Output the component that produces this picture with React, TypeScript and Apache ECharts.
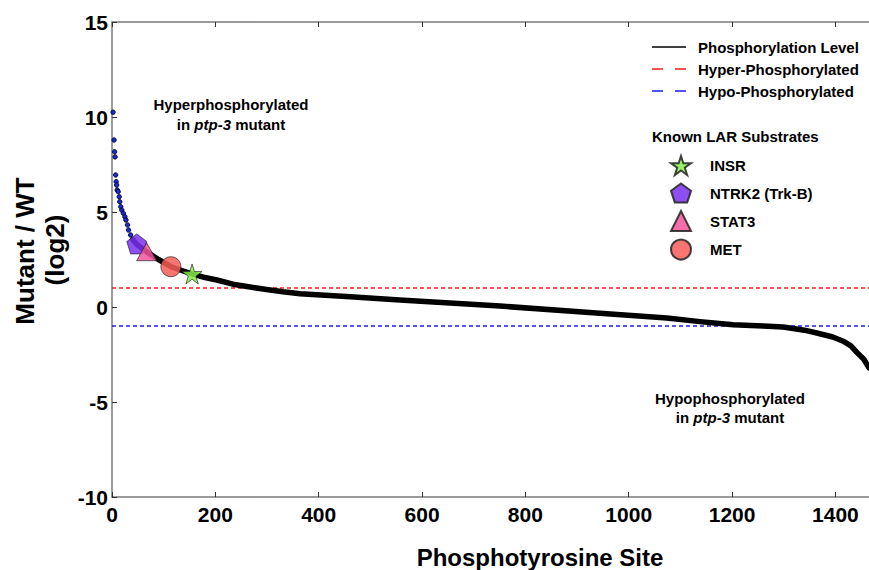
import React, { useEffect, useRef } from "react";
import * as echarts from "echarts";

// ---- data ----
const X_MAX = 1465;
const Y_TICKS = [-10, -5, 0, 5, 10, 15];
const X_TICKS_INTERVAL = 200;

// dense part of the sorted phosphorylation curve (site index, log2 ratio)
const lineX = [40, 48, 67, 90, 114, 135, 155, 180, 203, 234, 267, 299, 331, 364, 461, 557, 751, 944, 1074, 1138, 1202, 1260, 1299, 1340, 1364, 1395, 1415, 1430, 1442, 1455, 1465];
const lineY = [3.55, 3.3, 2.9, 2.5, 2.12, 1.92, 1.74, 1.55, 1.42, 1.2, 1.05, 0.92, 0.8, 0.7, 0.54, 0.37, 0.05, -0.33, -0.58, -0.77, -0.93, -1.0, -1.05, -1.22, -1.37, -1.58, -1.8, -2.05, -2.4, -2.75, -3.2];

// sparse individual sites at the top of the ranking
const dotX = [2, 4, 5, 6, 7, 8, 9, 10, 12, 14, 15, 17, 19, 22, 25, 27, 30, 32, 36];
const dotY = [10.25, 8.79, 8.17, 7.9, 6.95, 6.6, 6.42, 6.16, 6.07, 5.8, 5.54, 5.28, 5.1, 4.93, 4.75, 4.58, 4.32, 4.05, 3.79];

const HYPER_THRESHOLD = 1;
const HYPO_THRESHOLD = -1;

const substrateNames = ["INSR", "NTRK2 (Trk-B)", "STAT3", "MET"];
const substrateX = [155, 48, 67, 114];
const substrateY = [1.74, 3.32, 2.91, 2.12];
const substrateColors = ["#86f04a", "#7a2ff0", "#f2559b", "#f75d59"];

const STAR = "path://M50,0 L61.2,34.5 L97.6,34.5 L68.2,55.9 L79.4,90.5 L50,69.1 L20.6,90.5 L31.8,55.9 L2.4,34.5 L38.8,34.5 Z";
const PENTAGON = "path://M50,0 L97.6,34.5 L79.4,90.5 L20.6,90.5 L2.4,34.5 Z";
const substrateSymbols = [STAR, PENTAGON, "triangle", "circle"];

const SOLID_ICON = "path://M0,0 H68 V3 H0 Z";
const DASH_ICON = "path://M0,0 H22 V3 H0 Z M46,0 H68 V3 H46 Z";

const FONT = "Liberation Sans";

export default function App() {
  const ref = useRef<HTMLDivElement>(null);
  useEffect(() => {
    if (!ref.current) return;
    const chart = echarts.init(ref.current, undefined, { renderer: "svg" });
    const axisGray = "#7a7a7a";
    const legendText = { fontFamily: FONT, fontWeight: "bold", fontSize: 15, color: "#000" };
    const option: any = {
      animation: false,
      backgroundColor: "#ffffff",
      grid: { left: 112, right: 0, top: 22, bottom: 73, containLabel: false },
      xAxis: [
        {
          type: "value",
          min: 0,
          max: X_MAX,
          interval: X_TICKS_INTERVAL,
          splitLine: { show: false },
          axisLine: { show: true, onZero: false, lineStyle: { color: axisGray, width: 1.5 } },
          axisTick: { show: true, inside: true, length: 5, lineStyle: { color: "#333" } },
          axisLabel: {
            color: "#000",
            fontFamily: FONT,
            fontWeight: "bold",
            fontSize: 21,
            margin: 7,
            showMaxLabel: false,
            formatter: (v: number) => String(v),
          },
        },
        {
          type: "value",
          position: "top",
          min: 0,
          max: X_MAX,
          interval: X_TICKS_INTERVAL,
          splitLine: { show: false },
          axisLine: { show: true, onZero: false, lineStyle: { color: axisGray, width: 1.5 } },
          axisTick: { show: true, inside: true, length: 5, lineStyle: { color: "#333" } },
          axisLabel: { show: false },
        },
      ],
      yAxis: {
        type: "value",
        min: Y_TICKS[0],
        max: Y_TICKS[Y_TICKS.length - 1],
        interval: 5,
        splitLine: { show: false },
        axisLine: { show: true, onZero: false, lineStyle: { color: axisGray, width: 1.5 } },
        axisTick: { show: true, inside: true, length: 5, lineStyle: { color: "#333" } },
        axisLabel: {
          color: "#000",
          fontFamily: FONT,
          fontWeight: "bold",
          fontSize: 21,
          margin: 4,
        },
      },
      legend: [
        {
          orient: "vertical",
          left: 652,
          top: 39.5,
          padding: 0,
          itemWidth: 34,
          itemHeight: 14,
          itemGap: 7,
          selectedMode: false,
          textStyle: { ...legendText, padding: [0, 0, 0, 7] },
          data: [
            { name: "Phosphorylation Level", icon: SOLID_ICON },
            { name: "Hyper-Phosphorylated", icon: DASH_ICON },
            { name: "Hypo-Phosphorylated", icon: DASH_ICON },
          ],
        },
        {
          orient: "vertical",
          left: 670,
          top: 155,
          padding: 0,
          itemWidth: 20,
          itemHeight: 20,
          itemGap: 6.5,
          selectedMode: false,
          textStyle: { ...legendText, padding: [0, 0, 0, 14] },
          data: substrateNames,
        },
      ],
      graphic: [
        {
          type: "text",
          x: 25,
          y: 251,
          rotation: Math.PI / 2,
          style: { text: "Mutant / WT", fontFamily: FONT, fontWeight: "bold", fontSize: 26, fill: "#000", align: "center", verticalAlign: "middle" },
        },
        {
          type: "text",
          x: 55,
          y: 250,
          rotation: Math.PI / 2,
          style: { text: "(log2)", fontFamily: FONT, fontWeight: "bold", fontSize: 26, fill: "#000", align: "center", verticalAlign: "middle" },
        },
        {
          type: "text",
          x: 540,
          y: 557,
          style: { text: "Phosphotyrosine Site", fontFamily: FONT, fontWeight: "bold", fontSize: 24, fill: "#000", align: "center", verticalAlign: "middle" },
        },
        {
          type: "text",
          x: 652,
          y: 136,
          style: { text: "Known LAR Substrates", fontFamily: FONT, fontWeight: "bold", fontSize: 15, fill: "#000", align: "left", verticalAlign: "middle" },
        },
        {
          type: "text",
          x: 231,
          y: 104,
          style: { text: "Hyperphosphorylated", fontFamily: FONT, fontWeight: "bold", fontSize: 15, fill: "#000", align: "center", verticalAlign: "middle" },
        },
        {
          type: "text",
          x: 231,
          y: 124,
          style: {
            text: "in {i|ptp-3} mutant",
            rich: { i: { fontStyle: "italic", fontFamily: FONT, fontWeight: "bold", fontSize: 15, fill: "#000" } },
            fontFamily: FONT, fontWeight: "bold", fontSize: 15, fill: "#000", align: "center", verticalAlign: "middle",
          },
        },
        {
          type: "text",
          x: 730,
          y: 398,
          style: { text: "Hypophosphorylated", fontFamily: FONT, fontWeight: "bold", fontSize: 15, fill: "#000", align: "center", verticalAlign: "middle" },
        },
        {
          type: "text",
          x: 730,
          y: 417,
          style: {
            text: "in {i|ptp-3} mutant",
            rich: { i: { fontStyle: "italic", fontFamily: FONT, fontWeight: "bold", fontSize: 15, fill: "#000" } },
            fontFamily: FONT, fontWeight: "bold", fontSize: 15, fill: "#000", align: "center", verticalAlign: "middle",
          },
        },
      ],
      series: [
        {
          name: "Hyper-Phosphorylated",
          type: "line",
          symbol: "none",
          data: [[0, HYPER_THRESHOLD], [X_MAX, HYPER_THRESHOLD]],
          lineStyle: { color: "#ff1a1a", width: 1.5, type: [4, 3] },
          itemStyle: { color: "#ff1a1a" },
          z: 1,
        },
        {
          name: "Hypo-Phosphorylated",
          type: "line",
          symbol: "none",
          data: [[0, HYPO_THRESHOLD], [X_MAX, HYPO_THRESHOLD]],
          lineStyle: { color: "#1a1aff", width: 1.5, type: [4, 3] },
          itemStyle: { color: "#1a1aff" },
          z: 1,
        },
        {
          name: "Phosphorylation Level",
          type: "line",
          symbol: "none",
          data: lineX.map((x, i) => [x, lineY[i]]),
          lineStyle: { color: "#000", width: 5.5, cap: "round", join: "round" },
          itemStyle: { color: "#000" },
          z: 3,
        },
        {
          name: "sites",
          type: "scatter",
          symbol: "circle",
          symbolSize: 4.5,
          data: dotX.map((x, i) => [x, dotY[i]]),
          itemStyle: { color: "#1a2ad0", borderColor: "#000022", borderWidth: 0.8, opacity: 1 },
          z: 3,
        },
        ...substrateNames.map((name, i) => ({
          name,
          type: "scatter",
          symbol: substrateSymbols[i],
          symbolSize: i === 2 ? [20, 18] : 20,
          data: [[substrateX[i], substrateY[i]]],
          itemStyle: { color: substrateColors[i], borderColor: "#222", borderWidth: 0.8, opacity: 0.85 },
          z: 4,
        })),
      ],
    };
    chart.setOption(option);
    return () => chart.dispose();
  }, []);
  return <div ref={ref} style={{ width: 869, height: 570, position: "absolute", left: 0, top: 0 }} />;
}
